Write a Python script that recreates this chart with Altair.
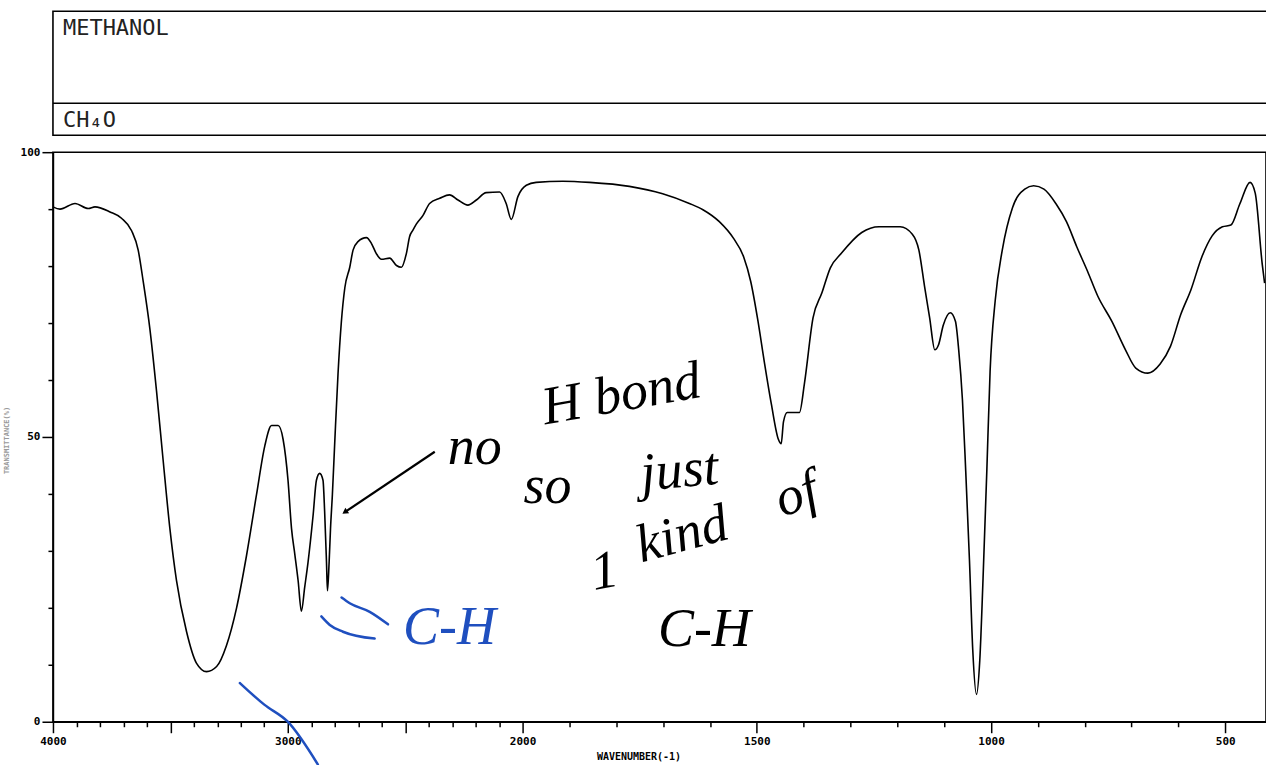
import altair as alt
import pandas as pd

# ---- spectrum (wavenumber in cm-1, % transmittance) ----
wavenumber = [4000, 3970, 3906, 3850, 3821, 3757, 3708, 3665, 3637, 3616, 3587, 3559, 3531,
              3502, 3474, 3431, 3389, 3346, 3303, 3261, 3218, 3176, 3133, 3098, 3069, 3041,
              3020, 2999, 2984, 2970, 2956, 2942, 2928, 2914, 2892, 2878, 2864, 2850, 2843,
              2835, 2831, 2824, 2818, 2810, 2800, 2786, 2772, 2757, 2736, 2722, 2701, 2665,
              2644, 2623, 2601, 2566, 2537, 2516, 2495, 2481, 2467, 2452, 2424, 2396, 2353,
              2311, 2275, 2233, 2197, 2155, 2098, 2070, 2048, 2020, 1992, 1971, 1914, 1857,
              1772, 1701, 1644, 1615, 1580, 1550, 1528, 1513, 1498, 1484, 1469, 1454, 1448,
              1443, 1435, 1409, 1398, 1380, 1361, 1343, 1320, 1276, 1239, 1194, 1168, 1154,
              1142, 1131, 1120, 1112, 1102, 1087, 1076, 1069, 1061, 1054, 1046, 1039, 1031,
              1024, 1017, 1009, 1002, 991, 976, 954, 928, 909, 887, 861, 839, 817, 794, 772,
              742, 713, 691, 665, 639, 617, 595, 573, 550, 528, 506, 488, 469, 447, 436, 421, 416]
transmittance = [90.4, 90.0, 91.0, 90.1, 90.4, 89.5, 88.4, 86.2, 82.8, 77.4, 68.9, 58.1, 46.0,
                 33.9, 24.8, 15.8, 10.3, 8.8, 9.7, 13.4, 20.0, 29.1, 39.9, 48.4, 52.0, 52.0,
                 49.6, 42.4, 33.9, 29.4, 24.8, 19.4, 23.6, 27.9, 36.3, 42.4, 43.6, 42.4, 36.9,
                 27.9, 23.0, 27.9, 33.9, 39.9, 49.0, 61.1, 70.1, 76.2, 79.8, 82.8, 84.3, 85.0,
                 84.0, 82.2, 81.2, 81.4, 80.1, 79.8, 82.2, 85.2, 86.3, 87.4, 88.9, 91.0, 91.9,
                 92.5, 91.6, 90.7, 91.6, 92.9, 93.0, 91.0, 88.2, 92.2, 94.2, 94.7, 94.9, 94.7,
                 94.0, 92.7, 91.0, 89.9, 87.8, 84.9, 81.6, 77.3, 70.6, 63.2, 55.8, 49.6, 48.8,
                 52.7, 54.3, 54.3, 59.6, 70.9, 75.3, 79.7, 82.2, 85.9, 86.9, 86.9, 85.6, 82.8,
                 76.5, 70.9, 65.3, 66.2, 69.6, 71.8, 70.3, 65.3, 56.5, 44.0, 28.3, 12.6, 4.8,
                 10.8, 25.2, 44.0, 61.5, 74.0, 82.8, 90.3, 93.5, 94.1, 93.5, 90.9, 87.8, 83.4,
                 79.1, 74.7, 70.3, 65.3, 62.1, 61.2, 62.8, 65.9, 71.5, 75.9, 81.6, 85.3, 86.9,
                 87.2, 90.9, 94.7, 92.8, 80.3, 77.0]

# ---- axis ticks / labels ----
x_ticks = list(range(4000, 1999, -100)) + list(range(1900, 499, -100))
x_labels = [4000, 3000, 2000, 1500, 1000, 500]
y_ticks = list(range(0, 101, 10))
y_labels = [0, 50, 100]

# ---- header texts ----
compound_name = "METHANOL"
formula = "CH\u2084O"

# ---- handwritten annotations (wavenumber, %T) ----
note_text = ["no", "H bond", "so", "just", "1", "kind", "of", "C-H"]
note_wn = [2204, 1789, 1947, 1665, 1825, 1659, 1415, 1612]
note_t = [48.1, 57.4, 41.2, 44.0, 26.3, 32.8, 39.8, 16.1]
note_angle = [0, 350, 0, 355, 350, 345, 340, 0]

blue_text = ["C-H"]
blue_wn = [2311]
blue_t = [16.5]

arrow_tail_wn, arrow_tail_t = [2374], [47.4]
arrow_head_wn, arrow_head_t = [2757], [36.8]

bracket_grp = ["a", "a", "a", "a", "b", "b", "b", "b"]
bracket_wn = [2771, 2736, 2651, 2573, 2857, 2821, 2765, 2630]
bracket_t = [21.8, 20.8, 19.3, 17.1, 18.5, 17.0, 15.8, 14.6]

stroke_wn = [3204, 3100, 3000, 2872]
stroke_t = [6.8, 3.0, 0.0, -7.5]

# ---- tables ----
spec = pd.DataFrame({"wn": wavenumber, "T": transmittance})
notes = pd.DataFrame({"wn": note_wn, "T": note_t, "txt": note_text, "ang": note_angle})
blue_notes = pd.DataFrame({"wn": blue_wn, "T": blue_t, "txt": blue_text})
arrow = pd.DataFrame({"wn": arrow_tail_wn, "T": arrow_tail_t,
                      "wn2": arrow_head_wn, "T2": arrow_head_t})
arrow_head = pd.DataFrame({"wn": arrow_head_wn, "T": arrow_head_t})
brackets = pd.DataFrame({"wn": bracket_wn, "T": bracket_t, "g": bracket_grp})
stroke = pd.DataFrame({"wn": stroke_wn, "T": stroke_t, "o": list(range(len(stroke_wn)))})
one = pd.DataFrame({"k": [0]})

AX_FONT = "DejaVu Sans Mono"

x_scale = alt.Scale(domain=[4000, 2000, 413], range=[0, 470, 1214], nice=False, zero=False)
y_scale = alt.Scale(domain=[0, 100], nice=False, zero=False)

label_list_x = "[" + ",".join(str(v) for v in x_labels) + "]"
label_list_y = "[" + ",".join(str(v) for v in y_labels) + "]"

x_axis = alt.Axis(
    values=x_ticks, format="d", grid=False,
    labelExpr=f"indexof({label_list_x}, datum.value) >= 0 ? datum.label : ''",
    tickSize=alt.condition("datum.value % 500 === 0", alt.value(11), alt.value(5)),
    tickColor="black", tickWidth=1.5, domainColor="black", domainWidth=1.5,
    labelFont=AX_FONT, labelFontSize=11, labelFontWeight="bold", labelColor="black",
    labelPadding=3, labelFlush=False, labelOverlap=False,
    title="WAVENUMBER(-1)", titleFont=AX_FONT, titleFontSize=10, titleFontWeight="bold",
    titleColor="black", titleX=586, titleY=30, titleAlign="center", titleBaseline="top",
)
y_axis = alt.Axis(
    values=y_ticks, format="d", grid=False,
    labelExpr=f"indexof({label_list_y}, datum.value) >= 0 ? datum.label : ''",
    tickSize=alt.condition("datum.value % 50 === 0", alt.value(11), alt.value(5)),
    tickColor="black", tickWidth=1.5, domainColor="black", domainWidth=1.5,
    labelFont=AX_FONT, labelFontSize=11, labelFontWeight="bold", labelColor="black",
    labelPadding=2, labelFlush=False, labelOverlap=False,
    title="TRANSMITTANCE(%)", titleFont=AX_FONT, titleFontSize=7, titleColor="#999999",
    titleX=-43, titleY=288, titleAngle=270, titleAlign="center",
)

X = alt.X("wn:Q", scale=x_scale, axis=x_axis)
Y = alt.Y("T:Q", scale=y_scale, axis=y_axis)

line = alt.Chart(spec).mark_line(color="black", strokeWidth=1.6, interpolate="monotone").encode(x=X, y=Y)

hand_font = "Liberation Serif"
note_layer = alt.Chart(notes).mark_text(
    font=hand_font, fontStyle="italic", fontSize=54, color="black", align="center", baseline="middle"
).encode(x=X, y=Y, text="txt:N", angle=alt.Angle("ang:Q", scale=None))

blue_layer = alt.Chart(blue_notes).mark_text(
    font=hand_font, fontStyle="italic", fontSize=54, color="#1f4fbf", align="center", baseline="middle"
).encode(x=X, y=Y, text="txt:N")

arrow_layer = alt.Chart(arrow).mark_rule(color="black", strokeWidth=2.2).encode(
    x=X, y=Y, x2="wn2:Q", y2="T2:Q")
arrow_head_layer = alt.Chart(arrow_head).mark_point(
    shape="triangle-up", filled=True, color="black", size=45, angle=236, opacity=1
).encode(x=X, y=Y)

bracket_layer = alt.Chart(brackets).mark_line(
    color="#1f4fbf", strokeWidth=2.5, interpolate="monotone", strokeCap="round"
).encode(x=X, y=Y, detail="g:N")

stroke_layer = alt.Chart(stroke).mark_line(
    color="#1f4fbf", strokeWidth=2.5, interpolate="monotone", strokeCap="round"
).encode(x=X, y=Y, order="o:Q")

# ---- header boxes (above the plot area) ----
header_box = alt.Chart(one).mark_rect(fill="white", stroke="black", strokeWidth=1.6).encode(
    x=alt.value(0), x2=alt.value(1240), y=alt.value(-141), y2=alt.value(-17))
header_div = alt.Chart(one).mark_rule(color="black", strokeWidth=1.6).encode(
    x=alt.value(0), x2=alt.value(1240), y=alt.value(-49))
name_text = alt.Chart(one).mark_text(
    text=compound_name, font=AX_FONT, fontSize=22, align="left", baseline="middle", color="#222222"
).encode(x=alt.value(10), y=alt.value(-124))
formula_text = alt.Chart(one).mark_text(
    text=formula, font=AX_FONT, fontSize=22, align="left", baseline="middle", color="#222222"
).encode(x=alt.value(10), y=alt.value(-32))

chart = alt.layer(
    header_box, header_div, name_text, formula_text,
    line, stroke_layer, bracket_layer, arrow_layer, arrow_head_layer, note_layer, blue_layer,
).properties(
    width=1214, height=570,
    autosize=alt.AutoSizeParams(type="none"),
    padding={"left": 53, "top": 152, "right": 0, "bottom": 43},
    background="white",
).configure_view(stroke="black", strokeWidth=1.6)

chart.save("out.html", embed_options={"renderer": "svg", "actions": False})
